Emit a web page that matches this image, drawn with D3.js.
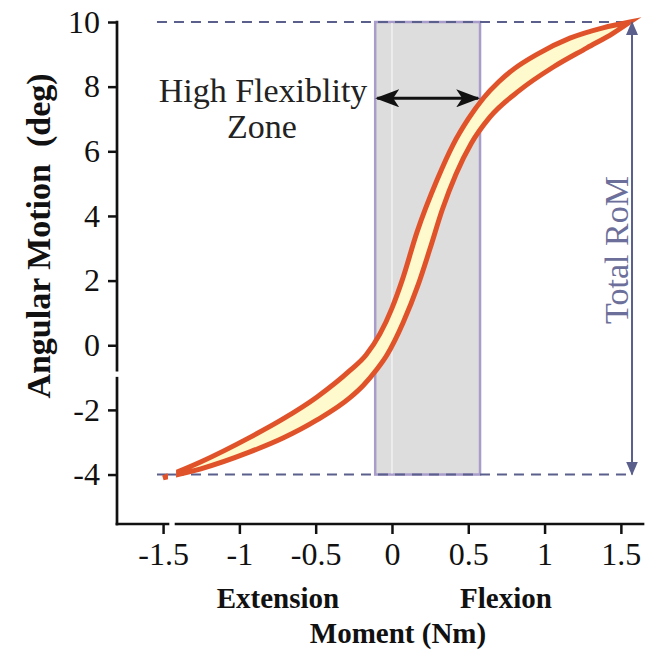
<!DOCTYPE html>
<html><head><meta charset="utf-8">
<script src="https://cdn.jsdelivr.net/npm/d3@7"></script>
<style>body{margin:0;background:#fff}svg{display:block}</style>
</head><body>
<script>
// ---- data ----
const xTicks = [-1.5, -1, -0.5, 0, 0.5, 1, 1.5];
const yTicks = [-4, -2, 0, 2, 4, 6, 8, 10];
const xTickLabels = ["-1.5", "-1", "-0.5", "0", "0.5", "1", "1.5"];
const yTickLabels = ["-4", "-2", "0", "2", "4", "6", "8", "10"];
// upper (left) branch of the hysteresis loop [moment, angle]
const upperBranch = [[-1.50,-4.10],[-1.258,-3.62],[-0.931,-2.85],[-0.714,-2.28],[-0.491,-1.60],[-0.275,-0.78],[-0.17,-0.30],[-0.079,0.35],[0.0,1.15],[0.066,2.0],[0.164,3.5],[0.295,5.11],[0.40,6.2],[0.50,7.0],[0.60,7.65],[0.70,8.15],[0.80,8.55],[0.95,9.0],[1.166,9.5],[1.383,9.82],[1.56,10.0]];
// lower (right) branch
const lowerBranch = [[-1.50,-4.10],[-1.258,-3.83],[-0.931,-3.30],[-0.714,-2.87],[-0.491,-2.31],[-0.275,-1.62],[-0.19,-1.25],[-0.10,-0.75],[-0.033,-0.30],[0.072,0.69],[0.17,1.85],[0.25,3.0],[0.33,4.2],[0.42,5.3],[0.52,6.25],[0.64,7.05],[0.84,7.9],[1.055,8.6],[1.278,9.2],[1.448,9.65],[1.56,10.0]];
const zoneRange = [-0.11, 0.577];      // high flexibility zone (moment)
const romRange = [-4, 10];             // total range of motion (deg)
const refLines = [10, -4];
const xDomain = [-1.802, 1.645];
const yDomain = [-5.53, 10];
const yBreak = [-1.02, -0.77];
const xBreak = [-1.468, -1.415];

const W = 658, H = 651;
const x = d3.scaleLinear().domain(xDomain).range([117, 643]);
const y = d3.scaleLinear().domain(yDomain).range([524, 22]);

const svg = d3.select("body").append("svg").attr("width", W).attr("height", H);
const defs = svg.append("defs");
defs.append("marker").attr("id","blk").attr("viewBox","0 0 24 18").attr("refX",22).attr("refY",9)
  .attr("markerWidth",24).attr("markerHeight",18).attr("markerUnits","userSpaceOnUse").attr("orient","auto-start-reverse")
  .append("path").attr("d","M0,0 L24,9 L0,18 L6,9 Z").attr("fill","#111");
defs.append("marker").attr("id","rom").attr("viewBox","0 0 14 14").attr("refX",13).attr("refY",7)
  .attr("markerWidth",14).attr("markerHeight",14).attr("markerUnits","userSpaceOnUse").attr("orient","auto-start-reverse")
  .append("path").attr("d","M0,1 L14,7 L0,13 Z").attr("fill","#5b5f8c");

const serif = "'Liberation Serif','Times New Roman',serif";

// zone rect
svg.append("rect").attr("x", x(zoneRange[0])).attr("y", y(romRange[1]))
  .attr("width", x(zoneRange[1]) - x(zoneRange[0])).attr("height", y(romRange[0]) - y(romRange[1]))
  .attr("fill", "#dddddd").attr("stroke", "#a89cca").attr("stroke-width", 2.5);
svg.append("line").attr("x1", x(0)).attr("x2", x(0)).attr("y1", y(romRange[1])+1).attr("y2", y(romRange[0])-1)
  .attr("stroke", "#f2f2f2").attr("stroke-width", 1.5);

// dashed reference lines
svg.selectAll(".ref").data(refLines).join("line")
  .attr("x1", x(-1.54)).attr("x2", x(1.575)).attr("y1", d => y(d)).attr("y2", d => y(d))
  .attr("stroke", "#5b5f8c").attr("stroke-width", 2).attr("stroke-dasharray", "10,7");

// loop
const line = d3.line().x(d => x(d[0])).y(d => y(d[1])).curve(d3.curveMonotoneX);
const p1 = line(upperBranch);
const p2 = line(lowerBranch.slice().reverse());
svg.append("path").attr("d", p1 + p2.replace(/^M/, "L") + "Z")
  .attr("fill", "#fffacd").attr("stroke", "#e0532a").attr("stroke-width", 5)
  .attr("stroke-linejoin", "miter").attr("stroke-miterlimit", 5);

// break strip
svg.append("rect").attr("x", x(xBreak[0])).attr("width", x(xBreak[1]) - x(xBreak[0]))
  .attr("y", y(-3.6)).attr("height", y(-4.5) - y(-3.6)).attr("fill", "#fff");
svg.selectAll(".ref2").data([-4]).join("line")
  .attr("x1", x(xBreak[0])).attr("x2", x(xBreak[1])).attr("y1", d => y(d)).attr("y2", d => y(d))
  .attr("stroke", "#5b5f8c").attr("stroke-width", 2);

// high flexibility arrow
svg.append("line").attr("x1", x(zoneRange[0]) + 2).attr("x2", x(0.565)).attr("y1", y(7.64)).attr("y2", y(7.64))
  .attr("stroke", "#111").attr("stroke-width", 3)
  .attr("marker-start", "url(#blk)").attr("marker-end", "url(#blk)");

// total RoM arrow
svg.append("line").attr("x1", x(1.573)).attr("x2", x(1.573)).attr("y1", y(romRange[0])).attr("y2", y(romRange[1]))
  .attr("stroke", "#5b5f8c").attr("stroke-width", 2)
  .attr("marker-start", "url(#rom)").attr("marker-end", "url(#rom)");
svg.append("text").attr("transform", `translate(628,250) rotate(-90)`).attr("text-anchor", "middle")
  .attr("font-family", serif).attr("font-size", 34).attr("fill", "#6b6f9a").text("Total RoM");

svg.append("text").attr("x", 263).attr("y", 102).attr("text-anchor", "middle")
  .attr("font-family", serif).attr("font-size", 34).attr("fill", "#222").text("High Flexiblity");
svg.append("text").attr("x", 262).attr("y", 138).attr("text-anchor", "middle")
  .attr("font-family", serif).attr("font-size", 34).attr("fill", "#222").text("Zone");

// axes
const yAxis = d3.axisLeft(y).tickValues(yTicks).tickFormat((d, i) => yTickLabels[i]).tickSize(9).tickPadding(8).tickSizeOuter(0);
const gy = svg.append("g").attr("transform", `translate(${x(xDomain[0])},0)`).call(yAxis);
const xAxis = d3.axisBottom(x).tickValues(xTicks).tickFormat((d, i) => xTickLabels[i]).tickSize(10).tickPadding(8).tickSizeOuter(0);
const gx = svg.append("g").attr("transform", `translate(0,${y(yDomain[0])})`).call(xAxis);
[gx, gy].forEach(g => {
  g.select(".domain").remove();
  g.selectAll(".tick line").attr("stroke", "#111").attr("stroke-width", 2.5);
  g.selectAll("text").attr("font-family", serif).attr("font-size", 32).attr("fill", "#111");
});
const axisSegs = [
  [[xDomain[0], yDomain[0]], [xDomain[0], yBreak[0]]],
  [[xDomain[0], yBreak[1]], [xDomain[0], yDomain[1]]],
  [[xDomain[0], yDomain[0]], [xBreak[0], yDomain[0]]],
  [[xBreak[1], yDomain[0]], [xDomain[1], yDomain[0]]]
];
svg.selectAll(".ax").data(axisSegs).join("line")
  .attr("x1", d => x(d[0][0])).attr("y1", d => y(d[0][1])).attr("x2", d => x(d[1][0])).attr("y2", d => y(d[1][1]))
  .attr("stroke", "#111").attr("stroke-width", 2.7).attr("stroke-linecap", "square");

// axis titles
svg.append("text").attr("transform", "translate(50,236) rotate(-90)").attr("text-anchor", "middle")
  .attr("font-family", serif).attr("font-weight", "bold").attr("font-size", 34).attr("fill", "#111")
  .attr("xml:space", "preserve").text("Angular Motion  (deg)");
svg.append("text").attr("x", 278).attr("y", 608).attr("text-anchor", "middle")
  .attr("font-family", serif).attr("font-weight", "bold").attr("font-size", 29).attr("fill", "#111").text("Extension");
svg.append("text").attr("x", 506).attr("y", 608).attr("text-anchor", "middle")
  .attr("font-family", serif).attr("font-weight", "bold").attr("font-size", 29).attr("fill", "#111").text("Flexion");
svg.append("text").attr("x", 398).attr("y", 643).attr("text-anchor", "middle")
  .attr("font-family", serif).attr("font-weight", "bold").attr("font-size", 29).attr("fill", "#111").text("Moment (Nm)");
</script>
</body></html>
